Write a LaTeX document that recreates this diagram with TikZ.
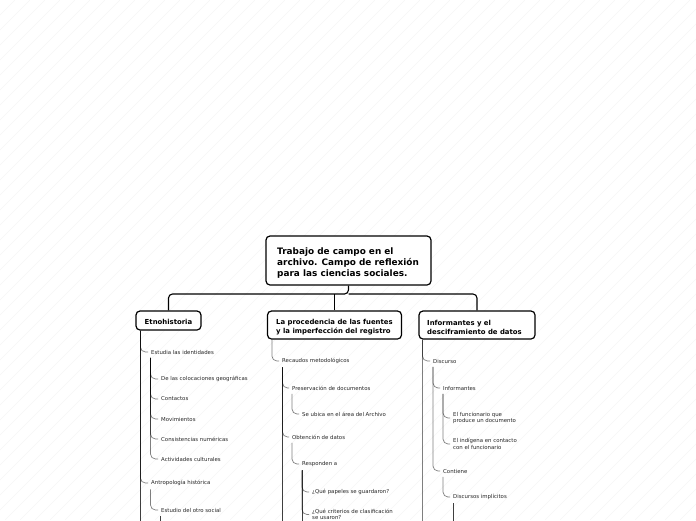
\documentclass[tikz,border=0pt]{standalone}
\usepackage{fontspec}
\setmainfont{DejaVu Sans}
\begin{document}
\begin{tikzpicture}[x=1pt,y=-1pt,
  box/.style={draw=black,line width=1.2pt,rounded corners=4pt,fill=white,inner sep=0pt},
  ttl/.style={anchor=west,inner sep=0pt,align=left,font=\fontsize{8.9}{11}\selectfont\bfseries},
  sub/.style={anchor=west,inner sep=0pt,align=left,font=\fontsize{6.9}{9}\selectfont\bfseries},
  topconn/.style={draw=black,line width=1.1pt,rounded corners=4pt},
  lbl/.style={anchor=west,inner sep=0pt,font=\fontsize{5.4}{6.3}\selectfont,text=black!85,align=left},
  br/.style={draw=black,line width=0.7pt,draw opacity=0.5,rounded corners=5pt},
  hatch/.style={draw=black!4,line width=0.6pt}
]
\useasboundingbox (0,0) rectangle (696,520);
\begin{scope}
  \clip (0,0) rectangle (696,520);
  \foreach \c in {0,15,...,1230} \draw[hatch] (\c,0) -- (\c-520,520);
\end{scope}

% main boxes
\node[box,minimum width=165pt,minimum height=49pt] (root) at (348.5,260.5) {};
\node[ttl] (rootT) at (277,263) {Trabajo de campo en el\\archivo. Campo de reflexión\\para las ciencias sociales.};
\node[box,minimum width=65pt,minimum height=19pt] (etno) at (168.5,320.5) {};
\node[sub,anchor=center] (etnoT) at (168.5,321.5) {Etnohistoria};
\node[box,minimum width=134pt,minimum height=28pt] (proc) at (334.5,325) {};
\node[sub] (procT) at (276,327.3) {La procedencia de las fuentes\\y la imperfección del registro};
\node[box,minimum width=116pt,minimum height=28pt] (info) at (477,325) {};
\node[sub] (infoT) at (427,327.3) {Informantes y el\\desciframiento de datos};

% top connectors
\coordinate (bus) at (0,294);
\draw[topconn] (root.south) -- (root.south |- bus) -| (etno.north);
\draw[topconn] (root.south |- bus) -| (info.north);
\draw[topconn] (proc.north |- bus) -- (proc.north);

% column 1
\node[lbl] (est) at (151,352) {Estudia las identidades};
\node[lbl] (c1) at (161,379) {De las colocaciones geográficas};
\node[lbl] (c2) at (161,399) {Contactos};
\node[lbl] (c3) at (161,419) {Movimientos};
\node[lbl] (c4) at (161,439) {Consistencias numéricas};
\node[lbl] (c5) at (161,459) {Actividades culturales};
\node[lbl] (ant) at (151,483) {Antropología histórica};
\node[lbl] (otro) at (161,510) {Estudio del otro social};

% column 2
\node[lbl] (rec) at (282,361) {Recaudos metodológicos};
\node[lbl] (pres) at (292,388) {Preservación de documentos};
\node[lbl] (ubica) at (302,414) {Se ubica en el área del Archivo};
\node[lbl] (obt) at (292,437) {Obtención de datos};
\node[lbl] (resp) at (302,464) {Responden a};
\node[lbl] (q1) at (312,492) {¿Qué papeles se guardaron?};
\node[lbl] (q2) at (312,514.5) {¿Qué criterios de clasificación\\se usaron?};

% column 3
\node[lbl] (disc) at (433,361) {Discurso};
\node[lbl] (inf) at (443,388) {Informantes};
\node[lbl] (func) at (453,418) {El funcionario que\\produce un documento};
\node[lbl] (indi) at (453,444) {El indígena en contacto\\con el funcionario};
\node[lbl] (cont) at (443,471) {Contiene};
\node[lbl] (impl) at (453,497) {Discursos implícitos};

% vertical starts
\coordinate (etnoL) at ([xshift=5pt]etno.south west);
\coordinate (procL) at ([xshift=5pt]proc.south west);
\coordinate (infoL) at ([xshift=4pt]info.south west);
\coordinate (estV) at ([xshift=-0.5pt,yshift=-3.5pt]est.south west);
\coordinate (antV) at ([xshift=-0.5pt,yshift=-3.5pt]ant.south west);
\coordinate (otroV) at ([xshift=-0.5pt,yshift=-3.5pt]otro.south west);
\coordinate (recV) at ([xshift=0.5pt,yshift=-3.5pt]rec.south west);
\coordinate (presV) at ([xshift=0pt,yshift=-3.5pt]pres.south west);
\coordinate (obtV) at ([xshift=0pt,yshift=-3.5pt]obt.south west);
\coordinate (respV) at ([xshift=0pt,yshift=-3.5pt]resp.south west);
\coordinate (discV) at ([xshift=0pt,yshift=-3.5pt]disc.south west);
\coordinate (infV) at ([xshift=0pt,yshift=-3.5pt]inf.south west);
\coordinate (contV) at ([xshift=0pt,yshift=-3.5pt]cont.south west);
\coordinate (implV) at ([xshift=0pt,yshift=-3.5pt]impl.south west);

% column 1 connectors
\draw[br] (etnoL) |- ([xshift=-3pt]est.west);
\draw[br] (etnoL) |- ([xshift=-3pt]ant.west);
\draw[br] (etnoL) -- (etnoL |- 0,530);
\draw[br] (etnoL) -- (etnoL |- 0,530);
\foreach \n in {c1,c2,c3,c4,c5} \draw[br] (estV) |- ([xshift=-3pt]\n.west);
\draw[br] (antV) |- ([xshift=-3pt]otro.west);
\draw[br] (otroV) -- (otroV |- 0,530);
\draw[br] (otroV) -- (otroV |- 0,530);

% column 2 connectors
\draw[br] (procL) |- ([xshift=-3pt]rec.west);
\draw[br] (recV) |- ([xshift=-3pt]pres.west);
\draw[br] (recV) |- ([xshift=-3pt]obt.west);
\draw[br] (recV) -- (recV |- 0,530);
\draw[br] (recV) -- (recV |- 0,530);
\draw[br] (presV) |- ([xshift=-3pt]ubica.west);
\draw[br] (obtV) |- ([xshift=-3pt]resp.west);
\draw[br] (respV) |- ([xshift=-3pt]q1.west);
\draw[br] (respV) |- ([xshift=-3pt]q2.west);
\draw[br] (respV) -- (respV |- 0,530);
\draw[br] (respV) -- (respV |- 0,530);

% column 3 connectors
\draw[br] (infoL) |- ([xshift=-3pt]disc.west);
\draw[br] (infoL) -- (infoL |- 0,530);
\draw[br] (discV) |- ([xshift=-3pt]inf.west);
\draw[br] (discV) |- ([xshift=-3pt]cont.west);
\draw[br] (infV) |- ([xshift=-3pt]func.west);
\draw[br] (infV) |- ([xshift=-3pt]indi.west);
\draw[br] (contV) |- ([xshift=-3pt]impl.west);
\draw[br] (implV) -- (implV |- 0,530);
\draw[br] (implV) -- (implV |- 0,530);
\end{tikzpicture}
\end{document}
